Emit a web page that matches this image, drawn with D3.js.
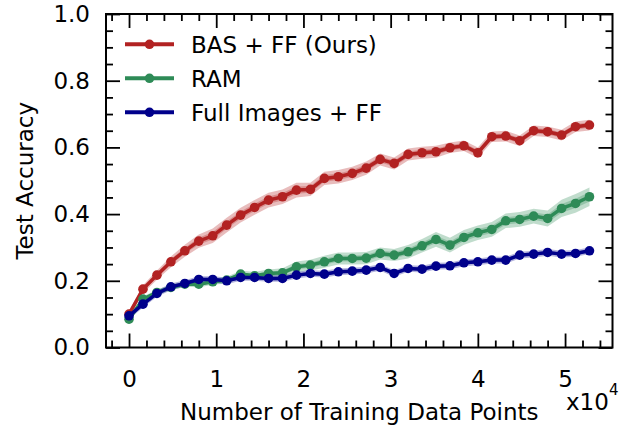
<!DOCTYPE html>
<html>
<head>
<meta charset="utf-8">
<script src="https://cdn.jsdelivr.net/npm/d3@7"></script>
<style>
  body { margin: 0; background: #fff; }
  svg { display: block; font-family: "DejaVu Sans", sans-serif; }
</style>
</head>
<body>
<svg id="svg" width="620" height="430"></svg>
<script>
// training set sizes (x axis)
var trainSizes = [0, 1600, 3200, 4800, 6400, 8000, 9600, 11200, 12800, 14400,
    16000, 17600, 19200, 20800, 22400, 24000, 25600, 27200, 28800, 30400,
    32000, 33600, 35200, 36800, 38400, 40000, 41600, 43200, 44800, 46400,
    48000, 49600, 51200, 52800];

var basMean = [0.10, 0.175, 0.217, 0.257, 0.29, 0.319, 0.335, 0.367, 0.397, 0.42,
    0.442, 0.452, 0.472, 0.474, 0.507, 0.512, 0.522, 0.538, 0.564, 0.552,
    0.579, 0.584, 0.587, 0.599, 0.605, 0.584, 0.632, 0.634, 0.62, 0.65,
    0.647, 0.637, 0.662, 0.667];
var basStd = [0.01, 0.012, 0.014, 0.016, 0.018, 0.02, 0.022, 0.022, 0.022, 0.022,
    0.022, 0.022, 0.022, 0.02, 0.02, 0.02, 0.02, 0.02, 0.018, 0.018,
    0.018, 0.018, 0.018, 0.016, 0.016, 0.016, 0.016, 0.016, 0.016, 0.016,
    0.016, 0.016, 0.016, 0.016];

var ramMean = [0.085, 0.145, 0.165, 0.18, 0.19, 0.19, 0.197, 0.202, 0.22, 0.215,
    0.222, 0.224, 0.242, 0.247, 0.257, 0.267, 0.267, 0.268, 0.282, 0.277,
    0.287, 0.305, 0.324, 0.307, 0.33, 0.344, 0.354, 0.38, 0.384, 0.394,
    0.387, 0.417, 0.432, 0.452];
var ramStd = [0.008, 0.008, 0.008, 0.008, 0.008, 0.009, 0.009, 0.01, 0.01, 0.012,
    0.012, 0.014, 0.016, 0.016, 0.018, 0.018, 0.018, 0.018, 0.018, 0.018,
    0.02, 0.02, 0.022, 0.022, 0.022, 0.022, 0.022, 0.022, 0.022, 0.022,
    0.024, 0.026, 0.028, 0.028];

var fullMean = [0.095, 0.13, 0.162, 0.182, 0.192, 0.204, 0.204, 0.2, 0.21, 0.21,
    0.207, 0.207, 0.217, 0.222, 0.22, 0.227, 0.229, 0.232, 0.24, 0.222,
    0.237, 0.235, 0.244, 0.245, 0.254, 0.257, 0.262, 0.262, 0.277, 0.28,
    0.285, 0.28, 0.282, 0.29];
var fullStd = [0.01, 0.01, 0.01, 0.01, 0.01, 0.01, 0.01, 0.01, 0.01, 0.01,
    0.01, 0.01, 0.01, 0.01, 0.01, 0.01, 0.01, 0.01, 0.01, 0.01,
    0.01, 0.01, 0.01, 0.01, 0.01, 0.01, 0.01, 0.01, 0.01, 0.01,
    0.01, 0.01, 0.01, 0.01];

var seriesNames = ['BAS + FF (Ours)', 'RAM', 'Full Images + FF'];
var seriesColors = ['#b22222', '#2e8b57', '#00008b'];

var xMajor = [0, 10000, 20000, 30000, 40000, 50000];
var xTickLabels = ['0', '1', '2', '3', '4', '5'];
var yMajor = [0, 0.2, 0.4, 0.6, 0.8, 1.0];

var series = [
    {name: seriesNames[0], color: seriesColors[0], mean: basMean, std: basStd},
    {name: seriesNames[1], color: seriesColors[1], mean: ramMean, std: ramStd},
    {name: seriesNames[2], color: seriesColors[2], mean: fullMean, std: fullStd}
];

var plotLeft = 106, plotRight = 612.5, plotTop = 14, plotBottom = 347.5;
var fontSize = 23;

var svg = d3.select('svg');

var x = d3.scaleLinear()
    .domain([-2640, 55440])
    .range([plotLeft, plotRight]);

var y = d3.scaleLinear()
    .domain([0, 1])
    .range([plotBottom, plotTop]);

var xMinor = d3.range(-2000, 55000, 2000).filter(function (v) { return v % 10000 != 0; });
var yMinor = d3.range(0, 1.001, 0.05).filter(function (v) { return Math.abs(v * 5 - Math.round(v * 5)) > 1e-6; });

// bands
var plot = svg.append('g');

series.forEach(function (s) {
    var pts = trainSizes.map(function (t, i) { return {x: t, m: s.mean[i], sd: s.std[i]}; });
    [1, 0.5].forEach(function (k) {
        var area = d3.area()
            .x(function (d) { return x(d.x); })
            .y0(function (d) { return y(d.m - k * d.sd); })
            .y1(function (d) { return y(d.m + k * d.sd); });
        plot.append('path')
            .datum(pts)
            .attr('d', area)
            .attr('fill', s.color)
            .attr('opacity', 0.3);
    });
});

// lines + markers
series.forEach(function (s) {
    var pts = trainSizes.map(function (t, i) { return {x: t, m: s.mean[i]}; });
    var line = d3.line()
        .x(function (d) { return x(d.x); })
        .y(function (d) { return y(d.m); });
    plot.append('path')
        .datum(pts)
        .attr('d', line)
        .attr('fill', 'none')
        .attr('stroke', s.color)
        .attr('stroke-width', 3.5);
    plot.selectAll(null)
        .data(pts)
        .enter()
        .append('circle')
        .attr('cx', function (d) { return x(d.x); })
        .attr('cy', function (d) { return y(d.m); })
        .attr('r', 4.8)
        .attr('fill', s.color);
});

// axes, ticks inward on all four sides
function styleAxis(g) {
    g.select('.domain').remove();
    g.selectAll('line').attr('stroke', '#000').attr('stroke-width', 1.8);
    g.selectAll('text').attr('font-size', fontSize).attr('fill', '#000').attr('font-family', '"DejaVu Sans", sans-serif');
}

svg.append('g')
    .attr('transform', 'translate(0,' + plotBottom + ')')
    .call(d3.axisBottom(x).tickValues(xMajor).tickSize(-14).tickPadding(23)
        .tickFormat(function (d, i) { return xTickLabels[i]; }))
    .call(styleAxis);
svg.append('g')
    .attr('transform', 'translate(0,' + plotBottom + ')')
    .call(d3.axisBottom(x).tickValues(xMinor).tickSize(-7).tickFormat(''))
    .call(styleAxis);
svg.append('g')
    .attr('transform', 'translate(0,' + plotTop + ')')
    .call(d3.axisTop(x).tickValues(xMajor).tickSize(-14).tickFormat(''))
    .call(styleAxis);
svg.append('g')
    .attr('transform', 'translate(0,' + plotTop + ')')
    .call(d3.axisTop(x).tickValues(xMinor).tickSize(-7).tickFormat(''))
    .call(styleAxis);

svg.append('g')
    .attr('transform', 'translate(' + plotLeft + ',0)')
    .call(d3.axisLeft(y).tickValues(yMajor).tickSize(-14).tickPadding(16)
        .tickFormat(d3.format('.1f')))
    .call(styleAxis);
svg.append('g')
    .attr('transform', 'translate(' + plotLeft + ',0)')
    .call(d3.axisLeft(y).tickValues(yMinor).tickSize(-7).tickFormat(''))
    .call(styleAxis);
svg.append('g')
    .attr('transform', 'translate(' + plotRight + ',0)')
    .call(d3.axisRight(y).tickValues(yMajor).tickSize(-14).tickFormat(''))
    .call(styleAxis);
svg.append('g')
    .attr('transform', 'translate(' + plotRight + ',0)')
    .call(d3.axisRight(y).tickValues(yMinor).tickSize(-7).tickFormat(''))
    .call(styleAxis);

svg.append('rect')
    .attr('x', plotLeft)
    .attr('y', plotTop)
    .attr('width', plotRight - plotLeft)
    .attr('height', plotBottom - plotTop)
    .attr('fill', 'none')
    .attr('stroke', '#000')
    .attr('stroke-width', 2);

// axis titles
svg.append('text')
    .attr('x', (plotLeft + plotRight) / 2)
    .attr('y', 420)
    .attr('text-anchor', 'middle')
    .attr('font-size', fontSize)
    .text('Number of Training Data Points');

svg.append('text')
    .attr('transform', 'translate(33,' + ((plotTop + plotBottom) / 2) + ') rotate(-90)')
    .attr('text-anchor', 'middle')
    .attr('font-size', fontSize)
    .text('Test Accuracy');

var offset = svg.append('text')
    .attr('x', 566)
    .attr('y', 410)
    .attr('font-size', fontSize)
    .text('x10');
offset.append('tspan')
    .attr('dy', -15)
    .attr('font-size', 15)
    .text('4');

// legend
var legend = svg.append('g');
series.forEach(function (s, i) {
    var ly = 44.3 + i * 34;
    legend.append('line')
        .attr('x1', 125).attr('x2', 174)
        .attr('y1', ly).attr('y2', ly)
        .attr('stroke', s.color)
        .attr('stroke-width', 4);
    legend.append('circle')
        .attr('cx', 149.5).attr('cy', ly)
        .attr('r', 4.8)
        .attr('fill', s.color);
    legend.append('text')
        .attr('x', 191)
        .attr('y', ly)
        .attr('dy', '0.36em')
        .attr('font-size', fontSize)
        .text(s.name);
});
</script>
</body>
</html>
